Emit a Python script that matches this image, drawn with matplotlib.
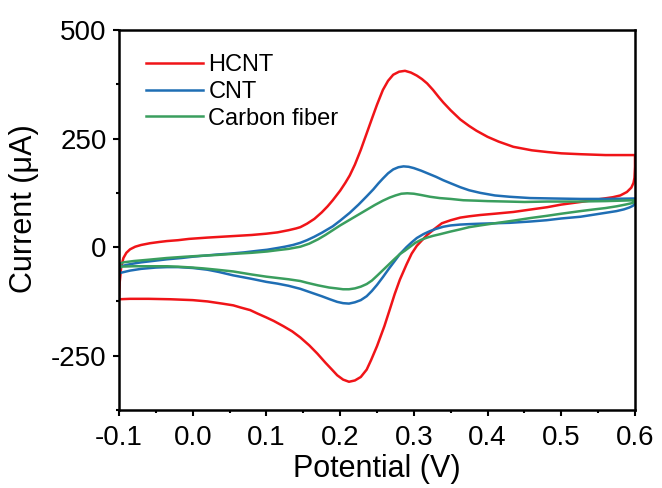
import numpy as np
import matplotlib
matplotlib.use("Agg")
import matplotlib.pyplot as plt
from matplotlib.ticker import MultipleLocator, FormatStrFormatter

plt.rcParams['font.family'] = ['Liberation Sans', 'DejaVu Sans']
plt.rcParams['axes.unicode_minus'] = False

# HCNT: forward (anodic) sweep, then reverse sweep
hcnt_fwd_v = [-0.1, -0.099, -0.097, -0.094, -0.09, -0.085, -0.078, -0.07, -0.058, -0.045,
              -0.035, -0.02, -0.005, 0.02, 0.04, 0.06, 0.08, 0.1, 0.115, 0.13,
              0.14, 0.146, 0.155, 0.165, 0.175, 0.183, 0.19, 0.2, 0.207, 0.213,
              0.22, 0.228, 0.236, 0.244, 0.25, 0.258, 0.265, 0.272, 0.28, 0.288,
              0.296, 0.304, 0.311, 0.318, 0.326, 0.334, 0.34, 0.35, 0.363, 0.375,
              0.385, 0.4, 0.415, 0.435, 0.46, 0.481, 0.5, 0.526, 0.56, 0.6]
hcnt_fwd_i = [-120, -80, -45, -25, -13, -5, 1, 5, 9, 12,
              14, 16, 19, 22, 24, 26, 28, 31, 34, 39,
              43, 46, 54, 65, 80, 94, 108, 130, 148, 165,
              190, 224, 262, 300, 328, 362, 383, 397, 404, 406,
              402, 395, 387, 377, 362, 345, 333, 315, 294, 279,
              268, 254, 243, 231, 223, 219, 216, 214, 212, 212]
hcnt_rev_v = [0.6, 0.6, 0.5993, 0.598, 0.595, 0.589, 0.58, 0.57, 0.55, 0.526,
              0.5, 0.481, 0.46, 0.435, 0.41, 0.39, 0.375, 0.363, 0.35, 0.338,
              0.328, 0.318, 0.31, 0.304, 0.297, 0.29, 0.281, 0.274, 0.268, 0.26,
              0.25, 0.242, 0.236, 0.228, 0.22, 0.212, 0.204, 0.196, 0.19, 0.18,
              0.169, 0.158, 0.146, 0.135, 0.123, 0.11, 0.1, 0.088, 0.078, 0.065,
              0.055, 0.04, 0.02, 0.0, -0.03, -0.06, -0.085, -0.1]
hcnt_rev_i = [212, 185, 160, 148, 137, 127, 119, 115, 110, 104,
              98, 92, 87, 81, 77, 74, 71, 68, 62, 55,
              42, 28, 14, 3, -15, -40, -75, -108, -140, -182,
              -228, -260, -282, -299, -307, -310, -305, -295, -284, -266,
              -245, -226, -208, -194, -182, -170, -162, -153, -145, -139,
              -134, -130, -125, -122, -120, -119, -119, -120]

# CNT
cnt_fwd_v = [-0.1, -0.099, -0.097, -0.09, -0.081, -0.07, -0.06, -0.045, -0.035, -0.015,
             0.0, 0.02, 0.033, 0.05, 0.07, 0.09, 0.101, 0.115, 0.125, 0.136,
             0.146, 0.155, 0.165, 0.175, 0.183, 0.19, 0.2, 0.213, 0.225, 0.236,
             0.245, 0.252, 0.258, 0.265, 0.272, 0.279, 0.286, 0.293, 0.3, 0.31,
             0.32, 0.33, 0.34, 0.35, 0.363, 0.375, 0.39, 0.41, 0.43, 0.458,
             0.49, 0.526, 0.56, 0.6]
cnt_fwd_i = [-60, -50, -44, -41, -38, -35, -33, -30, -28, -25,
             -22, -19, -17, -15, -12, -8, -6, -2, 1, 5,
             10, 16, 24, 33, 41, 48, 61, 79, 98, 117,
             133, 147, 158, 170, 179, 184, 186, 185, 182, 176,
             169, 162, 154, 147, 138, 131, 125, 119, 116, 113,
             112, 111, 111, 112]
cnt_rev_v = [0.6, 0.597, 0.592, 0.585, 0.575, 0.56, 0.545, 0.526, 0.5, 0.48,
             0.458, 0.43, 0.41, 0.39, 0.375, 0.363, 0.35, 0.34, 0.33, 0.322,
             0.313, 0.304, 0.297, 0.29, 0.281, 0.274, 0.266, 0.258, 0.25, 0.243,
             0.236, 0.228, 0.22, 0.212, 0.204, 0.196, 0.186, 0.175, 0.163, 0.146,
             0.13, 0.115, 0.1, 0.08, 0.055, 0.035, 0.02, 0.0, -0.02, -0.035,
             -0.05, -0.07, -0.085, -0.1]
cnt_rev_i = [100, 95, 91, 87, 83, 79, 75, 70, 66, 62,
             59, 56, 55, 54, 53, 52, 50, 47, 42, 37,
             30, 21, 11, 0, -16, -32, -50, -69, -87, -101,
             -113, -122, -127, -130, -129, -126, -120, -113, -106, -96,
             -89, -84, -80, -73, -65, -57, -52, -48, -46, -46,
             -47, -50, -54, -60]

# Carbon fiber
cf_fwd_v = [-0.1, -0.098, -0.094, -0.08, -0.06, -0.035, -0.01, 0.01, 0.033, 0.06,
            0.08, 0.101, 0.115, 0.13, 0.146, 0.158, 0.17, 0.18, 0.19, 0.2,
            0.213, 0.225, 0.236, 0.247, 0.258, 0.267, 0.275, 0.283, 0.291, 0.3,
            0.31, 0.322, 0.335, 0.35, 0.367, 0.385, 0.4, 0.426, 0.45, 0.481,
            0.52, 0.56, 0.6]
cf_fwd_i = [-45, -38, -35, -32, -29, -25, -22, -20, -18, -15,
            -13, -10, -7, -4, 1, 8, 18, 28, 39, 50,
            63, 75, 86, 97, 107, 114, 119, 123, 124, 123,
            120, 116, 113, 111, 108, 107, 106, 105, 104, 105,
            105, 106, 108]
cf_rev_v = [0.6, 0.595, 0.587, 0.575, 0.56, 0.545, 0.526, 0.5, 0.48, 0.458,
            0.435, 0.41, 0.39, 0.375, 0.363, 0.35, 0.336, 0.326, 0.318, 0.31,
            0.302, 0.295, 0.288, 0.281, 0.274, 0.266, 0.258, 0.25, 0.243, 0.236,
            0.228, 0.22, 0.212, 0.204, 0.195, 0.185, 0.17, 0.155, 0.146, 0.13,
            0.115, 0.1, 0.08, 0.055, 0.033, 0.015, 0.0, -0.02, -0.035, -0.06,
            -0.08, -0.1]
cf_rev_i = [104, 101, 98, 94, 90, 87, 83, 77, 72, 67,
            61, 55, 50, 46, 41, 36, 30, 26, 22, 17,
            10, 1, -8, -16, -27, -40, -53, -66, -77, -85,
            -91, -95, -97, -97, -95, -93, -88, -82, -78, -74,
            -71, -68, -63, -56, -52, -49, -47, -45, -44, -44,
            -44, -45]

labels = ['HCNT', 'CNT', 'Carbon fiber']
colors = ['#f01418', '#1f6eb4', '#3a9e5e']

fig = plt.figure(figsize=(6.62, 4.88), dpi=100)
ax = fig.add_axes([119 / 662, 1 - 410 / 488, (635 - 119) / 662, (410 - 30) / 488])

curves = [
    (hcnt_fwd_v + hcnt_rev_v, hcnt_fwd_i + hcnt_rev_i),
    (cnt_fwd_v + cnt_rev_v, cnt_fwd_i + cnt_rev_i),
    (cf_fwd_v + cf_rev_v, cf_fwd_i + cf_rev_i),
]
for (v, i), lab, c in zip(curves, labels, colors):
    ax.plot(v, i, color=c, lw=1.8, label=lab, solid_joinstyle='round')

ax.set_xlim(-0.1, 0.6)
ax.set_ylim(-375, 500)
ax.xaxis.set_major_locator(MultipleLocator(0.1))
ax.xaxis.set_minor_locator(MultipleLocator(0.05))
ax.yaxis.set_major_locator(MultipleLocator(250))
ax.yaxis.set_minor_locator(MultipleLocator(125))
ax.xaxis.set_major_formatter(FormatStrFormatter('%.1f'))

for s in ax.spines.values():
    s.set_linewidth(1.8)
ax.tick_params(which='major', direction='out', length=4, width=1.5, labelsize=20, pad=5)
ax.tick_params(which='minor', direction='out', length=2.5, width=1.5)
ax.tick_params(axis='x', which='major', pad=7)

ax.set_xlabel('Potential (V)', fontsize=22, labelpad=2)
ax.set_ylabel('Current (μA)', fontsize=22)
ax.yaxis.set_label_coords(-0.155, 0.53)

ax.legend(loc='upper left', frameon=False, fontsize=17, handlelength=2.4,
          handletextpad=0.25, labelspacing=0.2, borderaxespad=0.3,
          bbox_to_anchor=(0.02, 0.98))

fig.savefig('out.png', dpi=100)
